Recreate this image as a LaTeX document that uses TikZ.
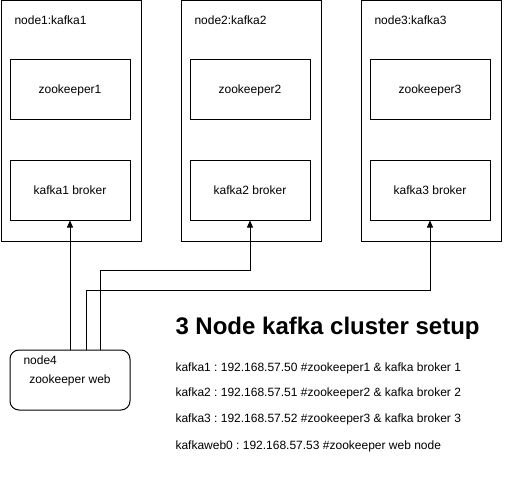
\documentclass[tikz,border=0pt]{standalone}
\usepackage{fontspec}
\setmainfont{Liberation Sans}
\usetikzlibrary{arrows.meta,positioning,calc}
\tikzset{>={Stealth[inset=0pt,length=7pt,width=6pt]}}
\tikzset{
hostbox/.style={draw,minimum width=140pt,minimum height=240pt,inner sep=0pt,anchor=north west},
partbox/.style={draw,minimum width=120pt,minimum height=60pt,inner sep=0pt},
plaintext/.style={anchor=west,inner sep=0pt},
}
\frenchspacing

\begin{document}
\begin{tikzpicture}[x=1pt,y=-1pt,line width=1pt,font=\fontsize{12}{14}\selectfont]
    \useasboundingbox (0,0) rectangle (521,481);
    % three kafka hosts
    \foreach \N/\X in {1/0,2/180,3/360}
    {
    \node[hostbox] (host\N) at (\X+0.5,0.5) {};
    \node[plaintext] (hostlabel\N) at (\X+14,20) {node\N:kafka\N};
    \node[partbox] (zk\N) at (\X+70,90) {zookeeper\N};
    \node[partbox] (broker\N) at (\X+70,190) {kafka\N{} broker};
    }
    % web node
    \node[draw,rounded corners=9pt,minimum width=120pt,minimum height=60pt,inner sep=0pt] (web) at (70,380) {};
    \node[plaintext] (weblabel) at (23,360) {node4};
    \node[inner sep=0pt] (webtext) at (70,380) {zookeeper web};
    \coordinate (w2) at (100,350);
    \coordinate (w3) at (86,350);
    \draw[->] (web.north -| broker1.south) -- (broker1.south);
    \draw[->] (w2) |- ($(broker2.south)+(0,50)$) -| (broker2.south);
    \draw[->] (w3) |- ($(broker3.south)+(0,70)$) -| (broker3.south);
    % setup notes
    \node[plaintext,font=\bfseries\fontsize{24}{28}\selectfont] (title) at (175,328) {3 Node kafka cluster setup};
    \node[plaintext] (ip1) at (175,368) {kafka1 : 192.168.57.50 \#zookeeper1 \& kafka broker 1};
    \node[plaintext] (ip2) at (175,393) {kafka2 : 192.168.57.51 \#zookeeper2 \& kafka broker 2};
    \node[plaintext] (ip3) at (175,419) {kafka3 : 192.168.57.52 \#zookeeper3 \& kafka broker 3};
    \node[plaintext] (ip4) at (175,446) {kafkaweb0 : 192.168.57.53 \#zookeeper web node};
\end{tikzpicture}
\end{document}
